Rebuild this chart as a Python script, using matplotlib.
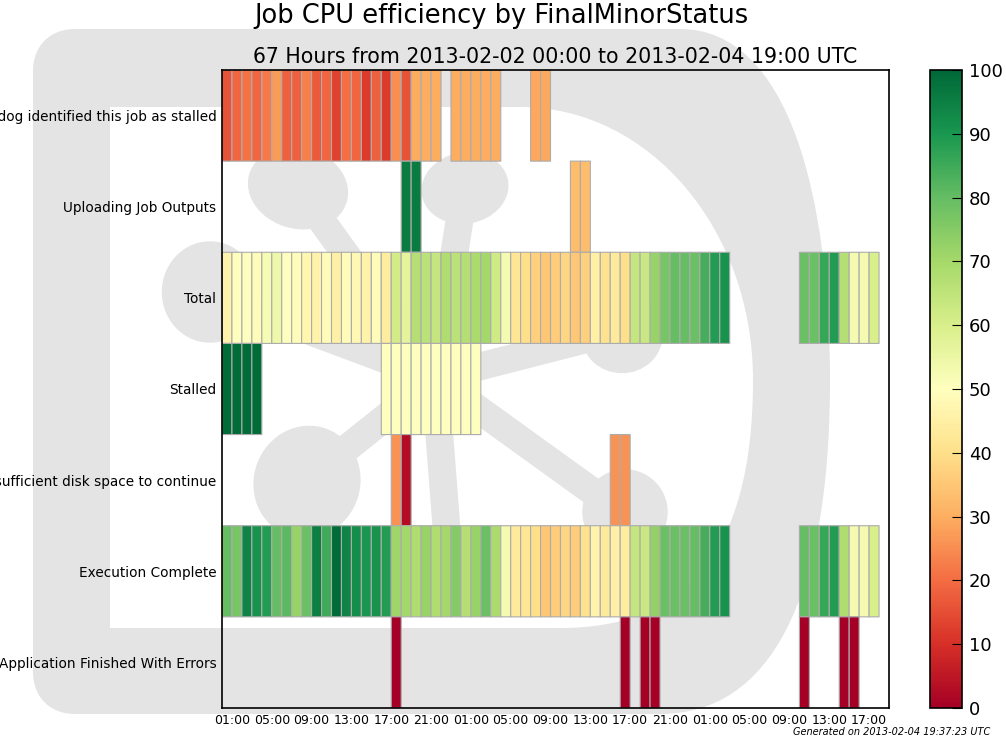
""" Job CPU efficiency per FinalMinorStatus, hourly heat map """

import numpy as np
import matplotlib
matplotlib.use("Agg")
import matplotlib.pyplot as plt
from matplotlib.path import Path
from matplotlib.patches import PathPatch, Ellipse, Circle

# Statuses, top row first
statuses = [
    "Watchdog identified this job as stalled",
    "Uploading Job Outputs",
    "Total",
    "Stalled",
    "Insufficient disk space to continue",
    "Execution Complete",
    "Application Finished With Errors",
]

N_HOURS = 67
tick_hours = list(range(1, N_HOURS, 4))
tick_labels = ["%02d:00" % (h % 24) for h in tick_hours]

# Hour index (from 2013-02-02 00:00 UTC) and efficiency in percent
watchdog_hours = list(range(0, 22)) + list(range(23, 28)) + [31, 32]
watchdog_eff = [16, 19, 21, 19, 22, 27, 18, 18, 23, 17, 19, 13, 20, 19, 12, 18,
                12, 25, 16, 30, 30, 30,
                30, 30, 30, 30, 30,
                29, 29]

uploading_hours = [18, 19, 35, 36]
uploading_eff = [96, 96, 33, 33]

total_hours = list(range(0, 51)) + list(range(58, 66))
total_eff = [46, 50, 50, 49, 52, 54, 50, 49, 47, 46, 49, 45, 49, 48, 46, 49,
             44, 61, 57, 67, 66, 64, 68, 66, 67, 69, 70, 62, 53, 42, 40, 37,
             35, 36, 38, 35, 37, 45, 41, 43, 40, 64, 63, 72, 77, 80, 80, 79,
             84, 89, 91,
             79, 79, 86, 89, 67, 53, 53, 60]

stalled_hours = list(range(0, 4)) + list(range(16, 26))
stalled_eff = [99, 99, 99, 99,
               50, 50, 50, 50, 50, 50, 50, 50, 50, 50]

disk_hours = [17, 18, 39, 40]
disk_eff = [26, 3, 26, 26]

complete_hours = list(range(0, 51)) + list(range(58, 66))
complete_eff = [80, 77, 94, 91, 89, 80, 81, 72, 79, 95, 85, 99, 94, 92, 90, 91,
                89, 71, 70, 68, 72, 68, 70, 75, 67, 72, 79, 69, 53, 43, 42, 40,
                35, 36, 38, 36, 41, 46, 43, 45, 44, 64, 63, 73, 79, 79, 79, 80,
                84, 89, 91,
                80, 79, 86, 89, 68, 53, 53, 60]

errors_hours = [17, 40, 42, 43, 58, 62, 63]
errors_eff = [0, 0, 0, 0, 0, 0, 0]

rows = [
    (watchdog_hours, watchdog_eff),
    (uploading_hours, uploading_eff),
    (total_hours, total_eff),
    (stalled_hours, stalled_eff),
    (disk_hours, disk_eff),
    (complete_hours, complete_eff),
    (errors_hours, errors_eff),
]

W, H = 1006, 739
WM = "#e4e4e4"


def watermark(bg):
    """ Faint logo drawn behind everything, in pixel coordinates. """
    M, L, C, Z = Path.MOVETO, Path.LINETO, Path.CURVE4, Path.CLOSEPOLY
    outer = Path(
        [(75, 29), (680, 29),
         (790, 29), (830, 200), (830, 380),
         (830, 600), (770, 714), (660, 714),
         (75, 714),
         (50, 714), (33, 697), (33, 672),
         (33, 71),
         (33, 46), (50, 29), (75, 29),
         (75, 29)],
        [M, L, C, C, C, C, C, C, L, C, C, C, L, C, C, C, Z])
    bg.add_patch(PathPatch(outer, facecolor=WM, edgecolor="none"))

    inner = Path(
        [(110, 107), (520, 107),
         (650, 107), (753, 230), (753, 380),
         (753, 560), (680, 628), (560, 628),
         (110, 628), (110, 107)],
        [M, L, C, C, C, C, C, C, L, Z])
    bg.add_patch(PathPatch(inner, facecolor="white", edgecolor="none"))

    # molecule: hub with spokes to the nodes
    hub = (435, 378)
    nodes = [(298, 188), (465, 185), (205, 292), (622, 330),
             (307, 480), (625, 515), (452, 600)]
    for x, y in nodes:
        bg.plot([hub[0], x], [hub[1], y], color=WM, lw=20,
                solid_capstyle="round")
    bg.add_patch(Circle(hub, 32, color=WM))
    bg.add_patch(Ellipse((298, 188), 100, 80, angle=15, color=WM))
    bg.add_patch(Ellipse((465, 188), 86, 70, angle=-10, color=WM))
    bg.add_patch(Ellipse((210, 292), 95, 100, color=WM))
    bg.add_patch(Ellipse((622, 335), 80, 75, color=WM))
    bg.add_patch(Ellipse((307, 482), 105, 112, angle=20, color=WM))
    bg.add_patch(Ellipse((625, 512), 84, 84, color=WM))


def efficiency_map():
    """ Plots the hourly CPU efficiency of each status. """
    data = np.full((len(rows), N_HOURS), np.nan)
    for i, (hours, eff) in enumerate(rows):
        data[i, hours] = eff
    data = np.ma.masked_invalid(data)

    fig = plt.figure(figsize=(W / 100, H / 100), dpi=100)

    bg = fig.add_axes([0, 0, 1, 1], zorder=-1)
    bg.set_xlim(0, W)
    bg.set_ylim(H, 0)
    bg.axis("off")
    watermark(bg)

    ax = fig.add_axes([222 / W, 31 / H, 667 / W, 638 / H])
    ax.patch.set_visible(False)
    mesh = ax.pcolor(np.arange(N_HOURS + 1), np.arange(len(rows) + 1), data,
                     cmap="RdYlGn", vmin=0, vmax=100,
                     edgecolors="#acacac", linewidth=0.8)
    ax.set_xlim(0, N_HOURS)
    ax.set_ylim(len(rows), 0)

    ax.set_yticks(np.arange(len(rows)) + 0.5)
    ax.set_yticklabels(statuses, fontsize=9.8)
    ax.set_xticks(tick_hours)
    ax.set_xticklabels(tick_labels, fontsize=9)
    ax.tick_params(length=0, pad=4)
    for sp in ax.spines.values():
        sp.set_linewidth(1.2)

    ax.set_title("67 Hours from 2013-02-02 00:00 to 2013-02-04 19:00 UTC",
                 fontsize=14.8, pad=5)
    fig.text(0.499, 0.996, "Job CPU efficiency by FinalMinorStatus",
             ha="center", va="top", fontsize=18.5)

    cax = fig.add_axes([930 / W, 31 / H, 32 / W, 638 / H])
    cb = fig.colorbar(mesh, cax=cax, ticks=range(0, 101, 10))
    cb.outline.set_linewidth(1.2)
    cax.tick_params(labelsize=13, direction="in", length=7, width=0.8,
                    pad=5)

    fig.text(0.984, 0.003, "Generated on 2013-02-04 19:37:23 UTC",
             ha="right", va="bottom", fontsize=7, style="italic")

    fig.savefig("out.png", dpi=100)


if __name__ == "__main__":
    efficiency_map()
